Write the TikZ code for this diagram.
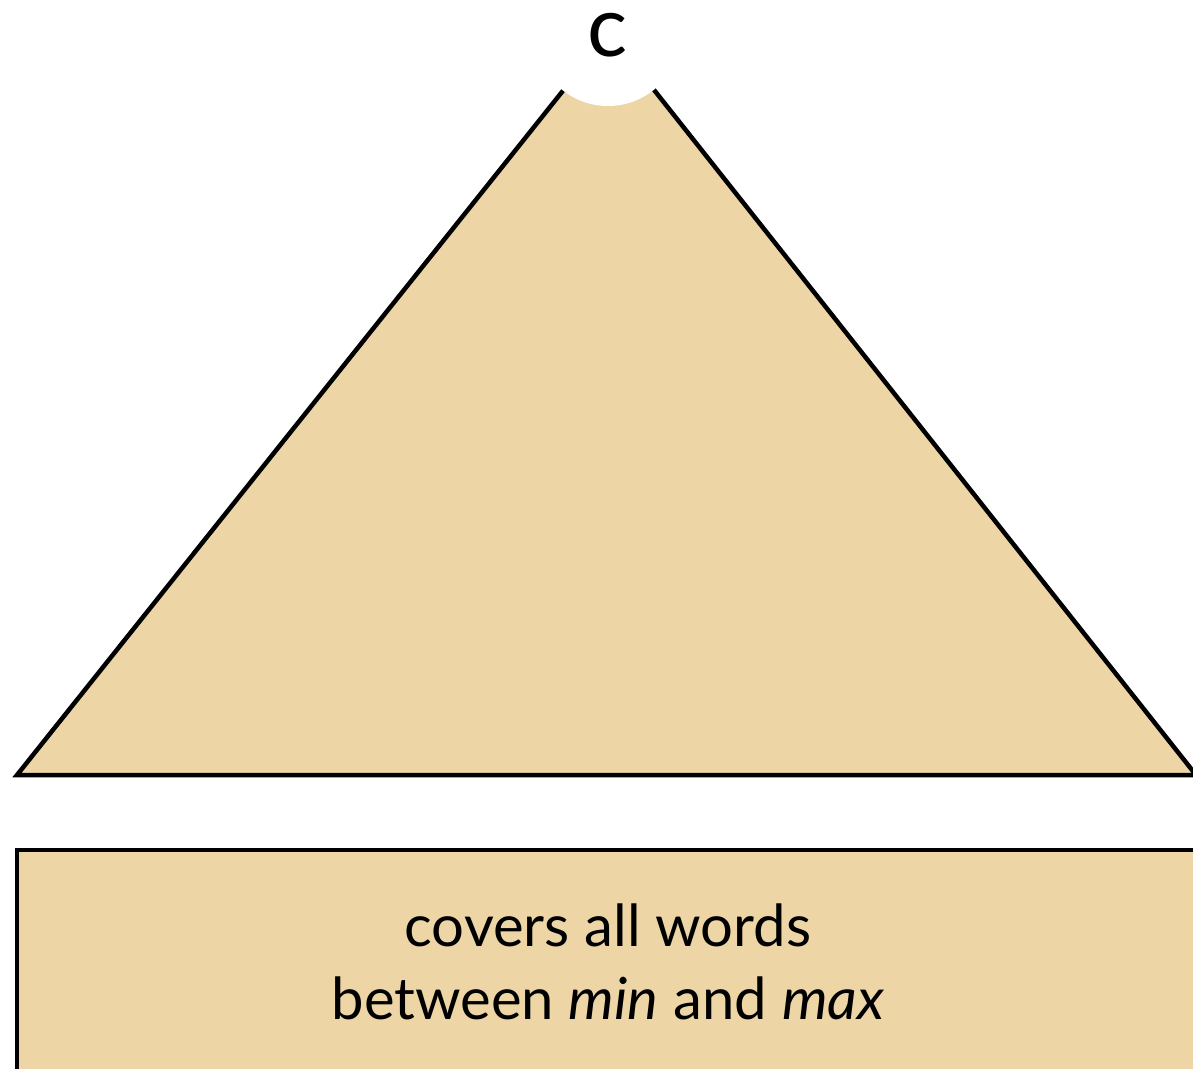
\documentclass[tikz,border=0pt]{standalone}
\usepackage{fontspec}
\setmainfont{Lato}
\definecolor{tan}{RGB}{237,213,166}
\begin{document}
\begin{tikzpicture}[x=1pt,y=-1pt,
  tanshape/.style={draw=black,line width=4.5pt,fill=tan},
  body/.style={font=\fontsize{58}{73}\selectfont,align=center,inner sep=0pt}]
\useasboundingbox (0,0) rectangle (1193,1068);
\clip (0,0) rectangle (1193,1068);
\draw[tanshape] (609,33) -- (17,775) -- (1196,775) -- cycle;
\fill[white] (608,33) circle (73pt);
\node[inner sep=0pt,font=\fontsize{84}{84}\selectfont] (c) at (608,35) {c};
\draw[tanshape] (17,850) rectangle (1215,1085);
\node[body] (txt) at (608,962) {covers all words\\between \textit{min} and \textit{max}};
\end{tikzpicture}
\end{document}
